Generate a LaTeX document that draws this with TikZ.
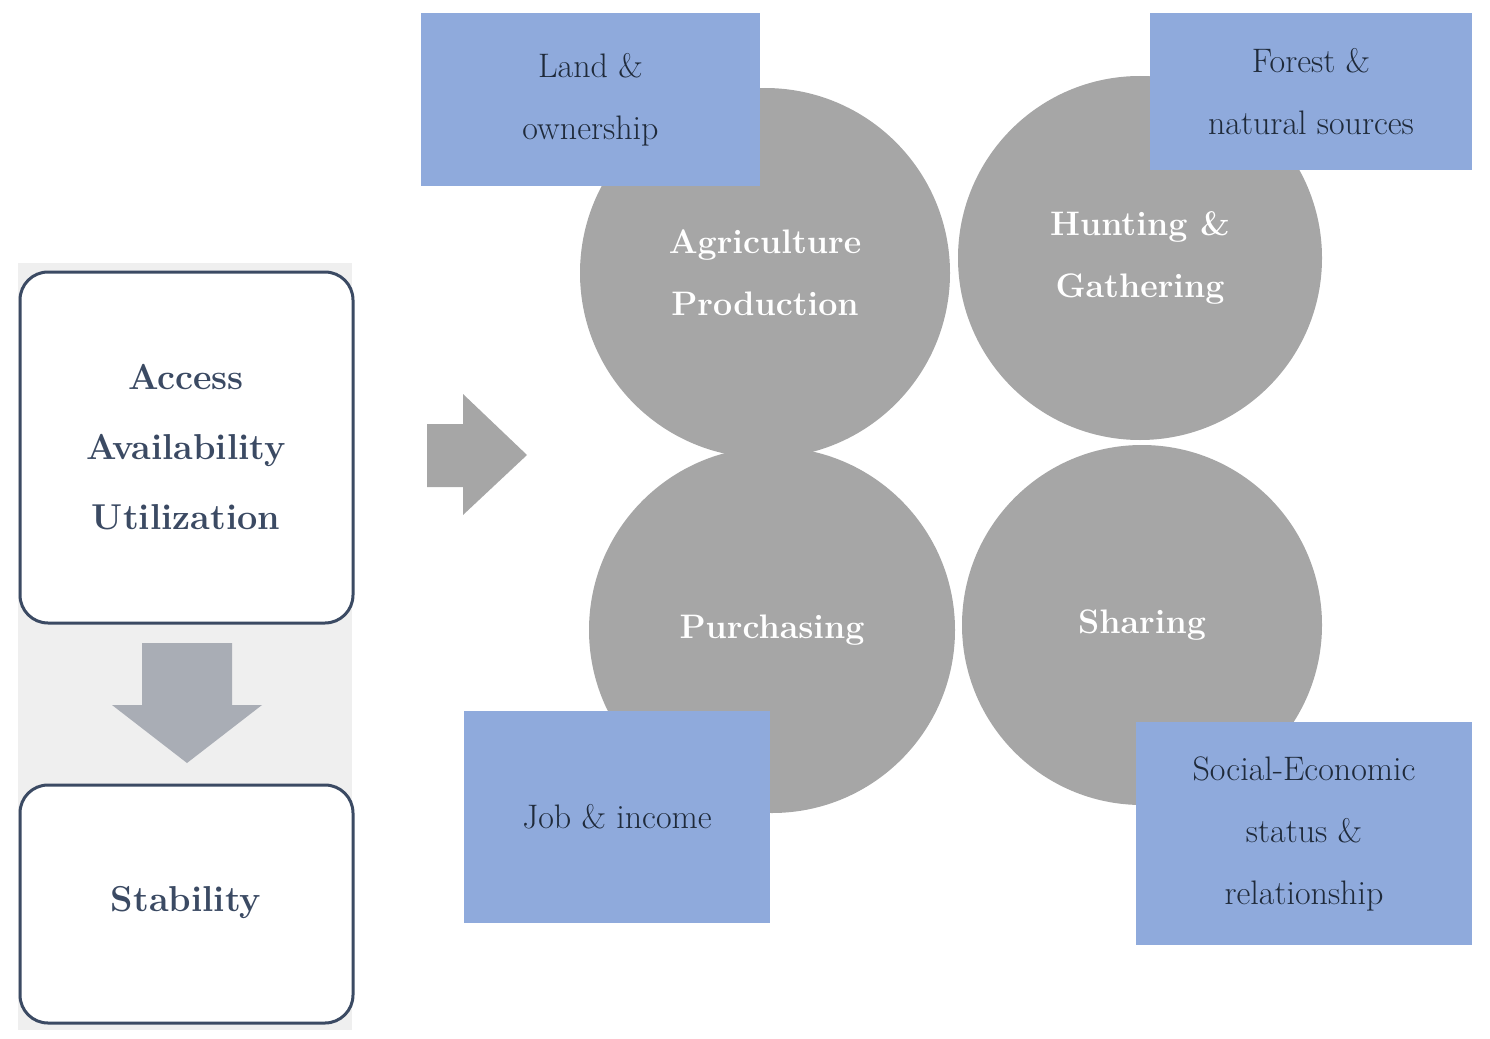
\documentclass[tikz,border=0pt]{standalone}
\begin{document}
\begin{tikzpicture}[x=1pt,y=-1pt,
  lbox/.style={draw=dkb,line width=3pt,rounded corners=28pt,fill=white},
  circ/.style={circle,fill=cg,draw=none,text=white,font=\fontsize{34}{62}\selectfont\bfseries,align=center},
  bbox/.style={fill=bl,draw=none,text=txt,font=\fontsize{34}{62}\selectfont,align=center},
  ltxt/.style={text=dkb,font=\fontsize{36}{70}\selectfont\bfseries,align=center}]
\definecolor{dkb}{HTML}{3B4A63}
\definecolor{cg}{HTML}{A6A6A6}
\definecolor{bl}{HTML}{8FAADC}
\definecolor{ag}{HTML}{A9ADB5}
\definecolor{bg}{HTML}{EFEFEF}
\definecolor{txt}{HTML}{1F2A3A}
\useasboundingbox (0,0) rectangle (1490,1038);
\fill[bg] (18,263) rectangle (352,1030);
\draw[lbox] (20,272) rectangle (353,623);
\node[ltxt] (t1) at (186,447) {Access\\Availability\\Utilization};
\fill[ag] (142,643) -- (232,643) -- (232,705) -- (262,705) -- (187,763) -- (112,705) -- (142,705) -- cycle;
\draw[lbox] (20,785) rectangle (353,1023);
\node[ltxt] (t2) at (186,903) {Stability};
\fill[cg] (427,424) -- (463,424) -- (463,394) -- (527,455) -- (463,515) -- (463,487) -- (427,487) -- cycle;
\node[circ,minimum size=370pt] (agr) at (765,273) {Agriculture\\Production};
\node[circ,minimum size=364pt] (hun) at (1140,258) {Hunting \&\\Gathering};
\node[circ,minimum size=366pt] (pur) at (772,630) {Purchasing};
\node[circ,minimum size=360pt] (sha) at (1142,625) {Sharing};
\node[bbox,minimum width=339pt,minimum height=173pt] (land) at (590.5,99.5) {Land \&\\ownership};
\node[bbox,minimum width=322pt,minimum height=157pt] (for) at (1311,91.5) {Forest \&\\natural sources};
\node[bbox,minimum width=306pt,minimum height=212pt] (job) at (617,817) {Job \& income};
\node[bbox,minimum width=336pt,minimum height=223pt] (soc) at (1304,833.5) {Social-Economic\\status \&\\relationship};
\end{tikzpicture}
\end{document}
